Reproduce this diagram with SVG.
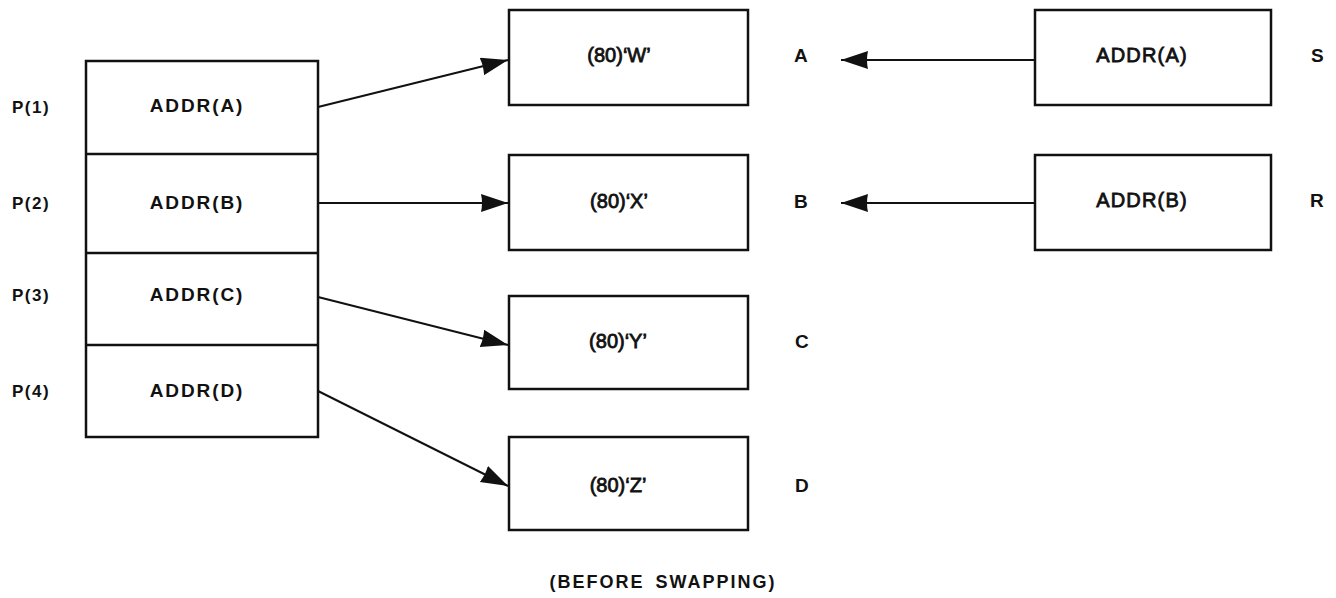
<svg xmlns="http://www.w3.org/2000/svg" width="1336" height="598" viewBox="0 0 1336 598">
<style>
.box{fill:#fff;stroke:#111;stroke-width:2.5}
.div{stroke:#111;stroke-width:2.5}
.lbl{font-family:"Liberation Sans",Arial,sans-serif;font-weight:bold;font-size:17px;fill:#111;letter-spacing:1.5px}
.let{font-family:"Liberation Sans",Arial,sans-serif;font-weight:bold;font-size:19px;fill:#111}
.addr{font-family:"Liberation Sans",Arial,sans-serif;font-weight:bold;font-size:19px;fill:#111;letter-spacing:1.9px;text-anchor:middle}
.val{font-family:"Liberation Sans",Arial,sans-serif;font-size:20px;fill:#111;stroke:#111;stroke-width:0.8;text-anchor:middle}
.raddr{font-family:"Liberation Sans",Arial,sans-serif;font-size:20px;fill:#111;stroke:#111;stroke-width:0.8;letter-spacing:1.2px;text-anchor:middle}
.conn{stroke:#111;stroke-width:2;fill:none;marker-end:url(#ah)}
.cap{font-family:"Liberation Sans",Arial,sans-serif;font-weight:bold;font-size:18px;fill:#111;letter-spacing:2px;word-spacing:4px;text-anchor:middle}
</style>
<defs>
<marker id="ah" markerUnits="userSpaceOnUse" markerWidth="30" markerHeight="20" refX="27" refY="9" orient="auto">
<path d="M0,0 L27,9 L0,18 Q2,9 0,0 z" fill="#111"/>
</marker>
</defs>
<rect width="1336" height="598" fill="#fff"/>

<g id="pointer-array">
<rect class="box" x="86" y="61" width="232" height="376"/>
<line class="div" x1="86" y1="154" x2="318" y2="154"/>
<line class="div" x1="86" y1="253" x2="318" y2="253"/>
<line class="div" x1="86" y1="345" x2="318" y2="345"/>
</g>
<g id="p1"><text class="lbl" x="12" y="113">P(1)</text><text class="addr" x="197" y="112">ADDR(A)</text></g>
<g id="p2"><text class="lbl" x="12" y="209">P(2)</text><text class="addr" x="197" y="209">ADDR(B)</text></g>
<g id="p3"><text class="lbl" x="12" y="301">P(3)</text><text class="addr" x="197" y="301">ADDR(C)</text></g>
<g id="p4"><text class="lbl" x="12" y="397">P(4)</text><text class="addr" x="197" y="397">ADDR(D)</text></g>

<g id="A"><rect class="box" x="509" y="10" width="239" height="95"/><text class="val" x="619" y="62">(80)‘W’</text><text class="let" x="794" y="62">A</text></g>
<g id="B"><rect class="box" x="509" y="155" width="239" height="95"/><text class="val" x="619" y="208">(80)‘X’</text><text class="let" x="794" y="208">B</text></g>
<g id="C"><rect class="box" x="509" y="296" width="239" height="93"/><text class="val" x="618" y="348">(80)‘Y’</text><text class="let" x="795" y="348">C</text></g>
<g id="D"><rect class="box" x="509" y="437" width="239" height="93"/><text class="val" x="618" y="492">(80)‘Z’</text><text class="let" x="795" y="492">D</text></g>

<g id="S"><rect class="box" x="1035" y="10" width="236" height="95"/><text class="raddr" x="1142" y="62">ADDR(A)</text><text class="let" x="1311" y="62">S</text></g>
<g id="R"><rect class="box" x="1035" y="155" width="236" height="95"/><text class="raddr" x="1142" y="207">ADDR(B)</text><text class="let" x="1310" y="207">R</text></g>

<g id="connectors">
<line class="conn" x1="318" y1="107" x2="508" y2="60"/>
<line class="conn" x1="318" y1="203" x2="508" y2="203"/>
<line class="conn" x1="318" y1="297" x2="508" y2="345"/>
<line class="conn" x1="318" y1="391" x2="508" y2="486"/>
<line class="conn" x1="1035" y1="60" x2="841" y2="60"/>
<line class="conn" x1="1035" y1="203" x2="841" y2="203"/>
</g>

<text class="cap" x="663" y="588">(BEFORE SWAPPING)</text>
</svg>
